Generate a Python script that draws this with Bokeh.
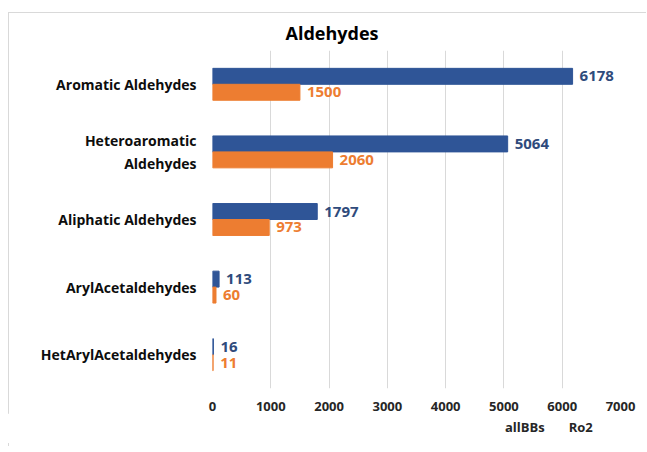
from bokeh.plotting import figure
from bokeh.layouts import column
from bokeh.models import (FactorRange, FixedTicker, ColumnDataSource, Legend, LegendItem,
                          InlineStyleSheet, Range1d)
from bokeh.transform import dodge
from bokeh.embed import file_html
from bokeh.resources import INLINE

categories = ["Aromatic Aldehydes", "Heteroaromatic\nAldehydes", "Aliphatic Aldehydes",
              "ArylAcetaldehydes", "HetArylAcetaldehydes"]
allBBs = [6178, 5064, 1797, 113, 16]
ro2 = [1500, 2060, 973, 60, 11]
series_names = ["allBBs", "Ro2"]
x_ticks = [0, 1000, 2000, 3000, 4000, 5000, 6000, 7000]

BLUE = "#2F5597"
ORANGE = "#ED7D31"
FONT = "Open Sans"

src = ColumnDataSource(dict(cat=categories, a=allBBs, r=ro2,
                            al=[str(v) for v in allBBs], rl=[str(v) for v in ro2]))

p = figure(y_range=FactorRange(factors=categories[::-1]), x_range=(0, 7000),
           frame_width=408, frame_height=338,
           min_border_left=212, min_border_right=26, min_border_top=50, min_border_bottom=0,
           output_backend="svg", toolbar_location=None,
           title="Aldehydes")

p.hbar(y=dodge("cat", 0.118, range=p.y_range), right="a", left=0, height=0.236,
       source=src, color=BLUE)
p.hbar(y=dodge("cat", -0.118, range=p.y_range), right="r", left=0, height=0.236,
       source=src, color=ORANGE)

p.text(x="a", y=dodge("cat", 0.118, range=p.y_range), text="al", source=src,
       x_offset=7, text_baseline="middle", text_align="left",
       text_font_size="15px", text_font_style="bold", text_color="#2F4B7C",
       text_font={"value": FONT})
p.text(x="r", y=dodge("cat", -0.118, range=p.y_range), text="rl", source=src,
       x_offset=7, text_baseline="middle", text_align="left",
       text_font_size="15px", text_font_style="bold", text_color=ORANGE,
       text_font={"value": FONT})

p.title.text_font = FONT
p.title.text_font_size = "18px"
p.title.text_font_style = "bold"
p.title.text_color = "#000000"
p.title.align = "left"
p.title.offset = 73
p.title.standoff = 11

p.xaxis.axis_label = None
p.xaxis.ticker = FixedTicker(ticks=x_ticks)
p.xaxis.axis_line_color = None
p.xaxis.major_tick_line_color = None
p.xaxis.minor_tick_line_color = None
p.xaxis.major_tick_out = 0
p.xaxis.major_tick_in = 0
p.xaxis.minor_tick_out = 0
p.xaxis.axis_label_standoff = 0
p.xaxis.major_label_text_font = FONT
p.xaxis.major_label_text_font_size = "13px"
p.xaxis.major_label_text_font_style = "bold"
p.xaxis.major_label_text_color = "#262626"
p.xaxis.major_label_standoff = 13

p.yaxis.axis_label = None
p.yaxis.axis_line_color = None
p.yaxis.major_tick_line_color = None
p.yaxis.minor_tick_line_color = None
p.yaxis.major_tick_out = 0
p.yaxis.major_tick_in = 0
p.yaxis.minor_tick_out = 0
p.yaxis.axis_label_standoff = 0
p.yaxis.major_label_text_font = FONT
p.yaxis.major_label_text_font_size = "14px"
p.yaxis.major_label_text_font_style = "bold"
p.yaxis.major_label_text_color = "#0d0d0d"
p.yaxis.major_label_standoff = 16

p.xgrid.grid_line_color = "#d9d9d9"
p.ygrid.grid_line_color = None
p.outline_line_color = None

p.stylesheets = [InlineStyleSheet(css=(
    ":host { position: relative; }"
    ":host::after { content: ''; position: absolute; left: 8px; top: 12px; right: 0; bottom: -33px;"
    " border-left: 1px solid #d9d9d9; border-top: 1px solid #d9d9d9; pointer-events: none; }"
))]

# legend strip below the chart
p2 = figure(width=646, height=30, x_range=Range1d(0, 1), y_range=Range1d(0, 1),
            min_border_left=0, min_border_right=0, min_border_top=0, min_border_bottom=0,
            output_backend="svg", toolbar_location=None)
p2.xaxis.visible = False
p2.yaxis.visible = False
p2.grid.visible = False
p2.outline_line_color = None

lb = p2.hbar(y=[], right=[], left=0, height=0.5, color=BLUE)
lo = p2.hbar(y=[], right=[], left=0, height=0.5, color=ORANGE)

lg = Legend(items=[LegendItem(label=series_names[0], renderers=[lb]),
                   LegendItem(label=series_names[1], renderers=[lo])])
lg.orientation = "horizontal"
lg.location = (281, 7)
lg.background_fill_alpha = 0
lg.border_line_color = None
lg.padding = 0
lg.margin = 0
lg.spacing = 12
lg.glyph_width = 9
lg.glyph_height = 9
lg.label_standoff = 3
lg.label_text_font = FONT
lg.label_text_font_size = "13px"
lg.label_text_font_style = "bold"
lg.label_text_color = "#262626"
p2.add_layout(lg, "center")

layout = column(p, p2, spacing=0)

open("out.html", "w").write(file_html(layout, INLINE))
